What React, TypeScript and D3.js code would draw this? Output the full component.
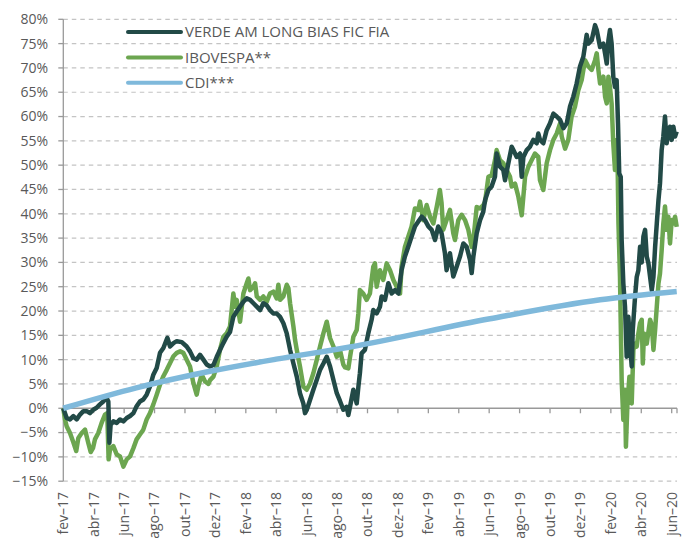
import React from 'react';
import * as d3 from 'd3';

// month offset from fev-17, cumulative return in %
const verde: [number, number][] = [
  [0, 0], [0.22, -2.0], [0.44, -2.3], [0.66, -1.6], [0.88, -2.3], [1.1, -1.3], [1.32, -0.6], [1.54, -0.6],
  [1.75, -1.0], [1.97, -0.3], [2.19, 0.1], [2.41, 0.8], [2.63, 1.4], [2.85, 2.1], [2.96, 1.4], [3.03, -7.1],
  [3.11, -3.4], [3.29, -2.7], [3.51, -3.0], [3.73, -2.3], [3.95, -2.7], [4.17, -2.0], [4.39, -1.6], [4.61, -1.0],
  [4.82, 0.4], [5.04, 1.4], [5.26, 1.8], [5.48, 2.8], [5.7, 4.5], [5.92, 6.9], [6.14, 8.3], [6.36, 11.4],
  [6.58, 12.4], [6.84, 14.5], [7.02, 12.7], [7.24, 13.4], [7.46, 13.8], [7.79, 13.6], [8.11, 12.7], [8.33, 11.7],
  [8.55, 10.3], [8.77, 10.0], [8.99, 11.0], [9.21, 10.0], [9.43, 9.0], [9.65, 8.6], [9.87, 8.9], [10.09, 10.6],
  [10.3, 12.0], [10.52, 13.4], [10.74, 14.7], [10.96, 15.7], [11.18, 18.8], [11.4, 19.9], [11.62, 20.9], [11.84, 21.9],
  [12.06, 22.6], [12.28, 22.3], [12.5, 21.6], [12.72, 20.9], [12.94, 20.2], [13.15, 21.6], [13.37, 21.2], [13.59, 20.2],
  [13.81, 19.5], [14.03, 19.5], [14.25, 18.8], [14.47, 17.5], [14.69, 15.4], [14.91, 12.0], [15.13, 9.2], [15.35, 6.5],
  [15.56, 3.1], [15.78, 1.0], [15.89, -1.0], [16.0, -0.4], [16.22, 1.7], [16.44, 3.8], [16.66, 5.8], [16.88, 7.9],
  [17.1, 9.2], [17.32, 10.6], [17.54, 8.6], [17.76, 5.8], [17.98, 3.1], [18.19, 1.5], [18.41, -0.3], [18.63, 0.3],
  [18.74, -1.4], [18.85, 0.3], [19.07, 3.8], [19.29, 1.0], [19.4, 4.4], [19.5, 7.2], [19.61, 11.3], [19.83, 12.0],
  [20.05, 15.4], [20.27, 18.2], [20.38, 20.2], [20.6, 19.5], [20.82, 20.9], [20.93, 23.0], [21.15, 22.3], [21.37, 25.7],
  [21.59, 23.6], [21.81, 24.3], [22.03, 23.6], [22.24, 28.4], [22.46, 31.2], [22.68, 33.2], [22.9, 35.3], [23.12, 37.4],
  [23.34, 38.4], [23.56, 39.4], [23.78, 38.7], [24.0, 37.4], [24.22, 36.7], [24.44, 34.6], [24.65, 37.4], [24.87, 36.0],
  [25.09, 31.9], [25.2, 28.4], [25.42, 31.9], [25.64, 27.1], [25.86, 29.1], [26.08, 31.2], [26.3, 33.9], [26.52, 33.2],
  [26.74, 30.5], [26.85, 27.8], [26.96, 31.2], [27.18, 36.0], [27.4, 38.7], [27.61, 40.4], [27.73, 42.8], [27.95, 44.9],
  [28.16, 45.6], [28.38, 47.6], [28.49, 52.4], [28.71, 49.7], [28.93, 49.0], [29.04, 46.9], [29.26, 50.4], [29.48, 53.8],
  [29.59, 53.1], [29.81, 51.7], [30.03, 52.4], [30.14, 47.6], [30.25, 51.7], [30.47, 53.1], [30.68, 53.8], [30.9, 55.2],
  [31.12, 54.5], [31.23, 56.5], [31.34, 55.2], [31.56, 54.5], [31.78, 57.2], [32.0, 58.6], [32.22, 60.6], [32.44, 60.0],
  [32.66, 59.3], [32.88, 57.6], [33.1, 58.6], [33.31, 62.0], [33.53, 64.1], [33.75, 66.8], [33.97, 70.3], [34.19, 72.3],
  [34.41, 76.8], [34.52, 75.0], [34.74, 75.7], [34.96, 78.8], [35.07, 77.8], [35.29, 74.3], [35.51, 75.0], [35.73, 70.9],
  [35.84, 75.7], [35.94, 77.8], [36.05, 75.0], [36.16, 68.2], [36.27, 66.1], [36.38, 67.5], [36.47, 58.6], [36.55, 48.3],
  [36.65, 47.6], [36.71, 34.6], [36.82, 25.7], [36.93, 20.9], [37.04, 10.6], [37.15, 18.8], [37.26, 13.3], [37.37, 8.6],
  [37.44, 16.1], [37.59, 22.9], [37.7, 27.0], [37.81, 28.4], [37.92, 33.2], [38.03, 30.0], [38.14, 35.3], [38.25, 36.7],
  [38.36, 31.2], [38.47, 29.8], [38.58, 27.0], [38.69, 24.3], [38.8, 27.0], [38.91, 33.2], [39.02, 38.0], [39.13, 42.8],
  [39.23, 46.2], [39.34, 53.1], [39.45, 55.9], [39.56, 60.0], [39.67, 54.5], [39.78, 57.2], [39.89, 57.9], [40.0, 55.2],
  [40.11, 57.9], [40.22, 55.9], [40.33, 56.9],
];

const ibovespa: [number, number][] = [
  [0, 0], [0.11, -2.3], [0.22, -3.7], [0.44, -5.1], [0.66, -7.0], [0.85, -8.8], [0.99, -6.1], [1.21, -5.1],
  [1.43, -4.4], [1.64, -7.1], [1.8, -9.0], [1.95, -8.2], [2.08, -6.4], [2.3, -5.1], [2.52, -3.0], [2.74, -1.3],
  [2.89, -1.0], [2.98, -10.5], [3.07, -8.5], [3.29, -7.8], [3.51, -9.5], [3.73, -9.9], [3.95, -12.0], [4.17, -10.5],
  [4.39, -9.9], [4.61, -8.2], [4.82, -6.4], [5.04, -5.4], [5.26, -4.4], [5.48, -2.3], [5.7, -1.0], [5.92, 0.8],
  [6.14, 2.8], [6.36, 4.9], [6.58, 6.6], [6.8, 7.9], [7.02, 9.3], [7.24, 10.7], [7.46, 11.4], [7.68, 11.7],
  [7.89, 11.4], [8.11, 10.0], [8.33, 8.6], [8.55, 5.2], [8.77, 2.8], [8.88, 4.5], [9.1, 6.9], [9.32, 5.5],
  [9.54, 5.0], [9.65, 5.8], [9.87, 6.5], [10.09, 8.6], [10.3, 12.0], [10.52, 14.7], [10.74, 15.4], [10.96, 16.8],
  [11.18, 23.6], [11.29, 20.9], [11.4, 22.3], [11.62, 17.8], [11.84, 23.6], [12.06, 25.7], [12.17, 26.7], [12.28, 24.3],
  [12.5, 25.0], [12.61, 25.7], [12.72, 23.0], [12.94, 22.3], [13.15, 23.0], [13.37, 21.9], [13.59, 23.6], [13.81, 24.0],
  [14.03, 22.6], [14.14, 25.4], [14.25, 22.3], [14.47, 23.0], [14.69, 25.4], [14.8, 24.7], [14.91, 21.6], [15.13, 16.8],
  [15.24, 14.0], [15.35, 12.0], [15.56, 8.6], [15.78, 4.5], [16.0, 3.8], [16.22, 5.1], [16.44, 7.2], [16.66, 9.9],
  [16.88, 12.7], [17.1, 15.4], [17.32, 17.8], [17.43, 16.1], [17.54, 14.4], [17.76, 12.7], [17.98, 10.6], [18.19, 12.0],
  [18.41, 9.0], [18.52, 8.4], [18.74, 8.2], [18.85, 10.5], [19.07, 14.7], [19.29, 16.1], [19.4, 19.5], [19.5, 24.3],
  [19.72, 23.6], [19.94, 22.3], [20.16, 23.6], [20.38, 29.1], [20.49, 29.8], [20.6, 25.0], [20.82, 28.4], [21.04, 26.4],
  [21.26, 29.8], [21.48, 28.4], [21.7, 26.4], [21.92, 25.0], [22.14, 23.6], [22.24, 29.1], [22.46, 33.2], [22.68, 35.3],
  [22.9, 37.4], [23.12, 41.1], [23.34, 40.8], [23.45, 42.5], [23.67, 38.7], [23.89, 41.8], [24.11, 39.4], [24.33, 38.0],
  [24.55, 41.4], [24.76, 44.9], [24.87, 42.2], [24.98, 36.7], [25.2, 38.7], [25.42, 40.8], [25.64, 36.0], [25.75, 34.6],
  [25.97, 38.7], [26.19, 39.8], [26.41, 38.7], [26.63, 36.7], [26.85, 33.2], [26.96, 34.6], [27.18, 41.4], [27.4, 41.1],
  [27.62, 41.8], [27.73, 42.5], [27.95, 47.6], [28.16, 47.9], [28.38, 51.0], [28.49, 53.1], [28.71, 51.0], [28.93, 50.4],
  [29.15, 49.0], [29.37, 47.6], [29.48, 45.6], [29.7, 46.2], [29.92, 43.5], [30.14, 39.7], [30.36, 47.6], [30.58, 49.7],
  [30.79, 51.0], [31.01, 52.4], [31.23, 51.7], [31.34, 46.9], [31.56, 44.9], [31.78, 50.4], [32.0, 53.1], [32.22, 55.2],
  [32.44, 56.5], [32.66, 58.6], [32.77, 55.9], [32.99, 53.4], [33.2, 55.2], [33.42, 60.0], [33.64, 62.0], [33.86, 65.4],
  [34.08, 67.5], [34.3, 71.6], [34.52, 70.3], [34.74, 69.6], [34.96, 71.6], [35.07, 73.0], [35.18, 69.6], [35.29, 66.8],
  [35.51, 68.2], [35.62, 64.1], [35.73, 62.7], [35.84, 68.2], [35.94, 66.1], [36.05, 62.7], [36.16, 54.5], [36.27, 49.0],
  [36.38, 55.2], [36.45, 49.0], [36.5, 38.0], [36.6, 27.0], [36.65, 17.5], [36.71, 5.8], [36.82, -2.4], [36.93, 3.8],
  [36.99, -7.9], [37.09, 1.0], [37.22, 6.5], [37.37, 1.0], [37.48, 12.0], [37.59, 13.3], [37.7, 12.7], [37.81, 15.4],
  [37.92, 17.5], [38.03, 18.2], [38.1, 9.2], [38.18, 15.4], [38.36, 13.3], [38.58, 18.2], [38.69, 17.1], [38.8, 12.0],
  [38.91, 16.1], [39.02, 20.9], [39.13, 25.7], [39.23, 27.7], [39.34, 32.5], [39.45, 38.0], [39.56, 41.5], [39.67, 36.7],
  [39.78, 39.4], [39.89, 33.9], [40.0, 38.7], [40.11, 38.0], [40.22, 39.4], [40.33, 37.3],
];

const cdi: [number, number][] = [
  [0, 0], [4.8, 4.2], [9.65, 7.6], [14, 10.1], [18.85, 12.6], [28.05, 18.4], [35.3, 22.3], [40.33, 24.0],
];

const monthLabels = [
  'fev–17', 'abr–17', 'jun–17', 'ago–17', 'out–17', 'dez–17',
  'fev–18', 'abr–18', 'jun–18', 'ago–18', 'out–18', 'dez–18',
  'fev–19', 'abr–19', 'jun–19', 'ago–19', 'out–19', 'dez–19',
  'fev–20', 'abr–20', 'jun–20',
];
const yTicks = [-15, -10, -5, 0, 5, 10, 15, 20, 25, 30, 35, 40, 45, 50, 55, 60, 65, 70, 75, 80];

const seriesNames = ['VERDE AM LONG BIAS FIC FIA', 'IBOVESPA**', 'CDI***'];
const colors = ['#224a47', '#6ca650', '#7fb9db'];

const font = '"Open Sans", sans-serif';
const textColor = '#595959';

export default function App() {
  const width = 690;
  const height = 545;
  const x = d3.scaleLinear().domain([0, 40]).range([63.3, 671.7]);
  const y = d3.scaleLinear().domain([-15, 80]).range([481.2, 19.3]);

  const line = d3.line<[number, number]>()
    .x(d => x(d[0]))
    .y(d => y(d[1]));

  const x0 = x(0);
  const xEnd = 677;

  return (
    <svg width={width} height={height} style={{ position: 'absolute', left: 0, top: 0, background: '#fff' }}>
      {/* grid */}
      {yTicks.filter(t => t !== 0).map(t => (
        <line key={t} x1={x0} x2={xEnd} y1={y(t)} y2={y(t)}
          stroke="#c4c4c4" strokeWidth={1.2} strokeDasharray="4.5,4" />
      ))}
      {/* y axis */}
      <line x1={x0} x2={x0} y1={y(80)} y2={y(-15)} stroke="#999" strokeWidth={1.3} />
      {yTicks.map(t => (
        <g key={t}>
          <line x1={x0 - 5} x2={x0} y1={y(t)} y2={y(t)} stroke="#999" strokeWidth={1.3} />
          <text x={48} y={y(t)} dy="0.35em" textAnchor="end" fontFamily={font} fontSize={14} fill={textColor}>
            {(t < 0 ? '−' : '') + Math.abs(t) + '%'}
          </text>
        </g>
      ))}
      {/* x axis at zero */}
      <line x1={x0} x2={xEnd} y1={y(0)} y2={y(0)} stroke="#999" strokeWidth={1.3} />
      {monthLabels.map((lab, i) => {
        const px = x(i * 2);
        return (
          <g key={lab}>
            <line x1={px} x2={px} y1={y(0)} y2={y(0) + 5} stroke="#999" strokeWidth={1.3} />
            <text transform={`translate(${px},492) rotate(-90)`} dy="0.35em" textAnchor="end"
              fontFamily={font} fontSize={14} fill={textColor}>{lab}</text>
          </g>
        );
      })}
      <line x1={xEnd} x2={xEnd} y1={y(0)} y2={y(0) + 5} stroke="#999" strokeWidth={1.3} />

      {/* series */}
      <path d={line(ibovespa) || ''} fill="none" stroke={colors[1]} strokeWidth={4.5} strokeLinejoin="round" />
      <path d={line(verde) || ''} fill="none" stroke={colors[0]} strokeWidth={4.5} strokeLinejoin="round" />
      <path d={line.curve(d3.curveMonotoneX)(cdi) || ''} fill="none" stroke={colors[2]} strokeWidth={5.5} />

      {/* legend */}
      {seriesNames.map((name, i) => {
        const ly = 32 + i * 25.4;
        return (
          <g key={name}>
            <line x1={128} x2={181} y1={ly} y2={ly} stroke={colors[i]} strokeWidth={4} strokeLinecap="round" />
            <text x={185} y={ly} dy="0.35em" fontFamily={font} fontSize={15} fill={textColor}>{name}</text>
          </g>
        );
      })}
    </svg>
  );
}
